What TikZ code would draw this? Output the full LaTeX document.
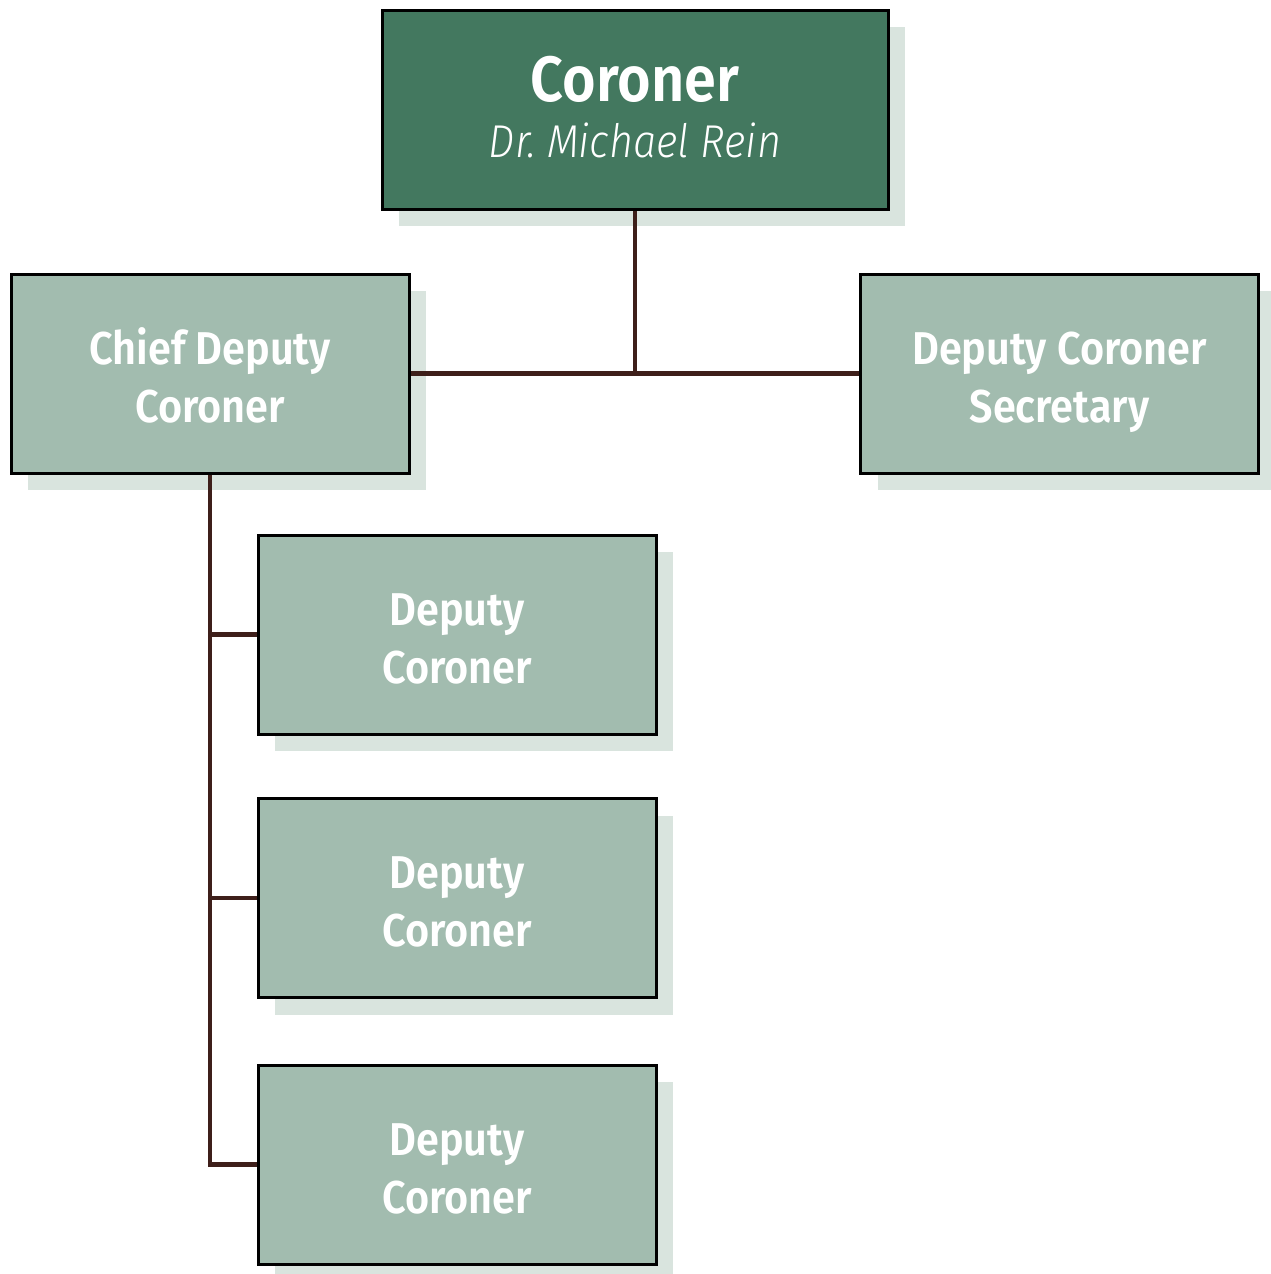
\documentclass[tikz,border=0pt]{standalone}
\usepackage{fontspec}
\setmainfont{Fira Sans}[FakeStretch=0.9,UprightFont=* SemiBold,ItalicFont=* Light Italic,BoldFont=* SemiBold]
\newfontfamily\namefont{Fira Sans Light Italic}[FakeStretch=0.9]
\usetikzlibrary{shadows}
\definecolor{darkgreen}{HTML}{43785F}
\definecolor{lightgreen}{HTML}{A2BCAF}
\definecolor{shadowc}{HTML}{D9E4DE}
\definecolor{linec}{HTML}{3E1F1A}
\tikzset{
  box/.style={draw=black, line width=1.5pt, fill=lightgreen, text=white,
    minimum width=199pt, minimum height=99.5pt, inner sep=0pt, align=center,
    font=\fontsize{23}{29}\selectfont, text height=49pt, text depth=0.5pt,
    drop shadow={shadow xshift=8.5pt, shadow yshift=-8.5pt, opacity=1, fill=shadowc, draw=none}},
  topbox/.style={box, fill=darkgreen, minimum width=253pt, text height=51pt, text depth=3.5pt},
  conn/.style={draw=linec, line width=2.3pt}
}
\begin{document}
\begin{tikzpicture}[x=0.5pt,y=-0.5pt]
\useasboundingbox (0,0) rectangle (1270,1274);
\node[topbox] (cor) at (635,109.5) {{\fontsize{32}{34}\selectfont Coroner}\\[-1pt]{\namefont\fontsize{23}{29}\selectfont Dr.\ Michael Rein}};
\node[box] (chief) at (210,373.5) {Chief Deputy\\Coroner};
\node[box] (sec) at (1059.5,373.5) {Deputy Coroner\\Secretary};
\node[box] (d1) at (457,634.5) {Deputy\\Coroner};
\node[box] (d2) at (457,898) {Deputy\\Coroner};
\node[box] (d3) at (457,1164.5) {Deputy\\Coroner};
\draw[conn] (chief.east) -- (sec.west);
\draw[conn] (cor.south) -- (cor.south |- chief.east);
\draw[conn] (chief.south) -- (chief.south |- d3.west) -- (d3.west);
\draw[conn] (chief.south |- d1.west) -- (d1.west);
\draw[conn] (chief.south |- d2.west) -- (d2.west);
\end{tikzpicture}
\end{document}
